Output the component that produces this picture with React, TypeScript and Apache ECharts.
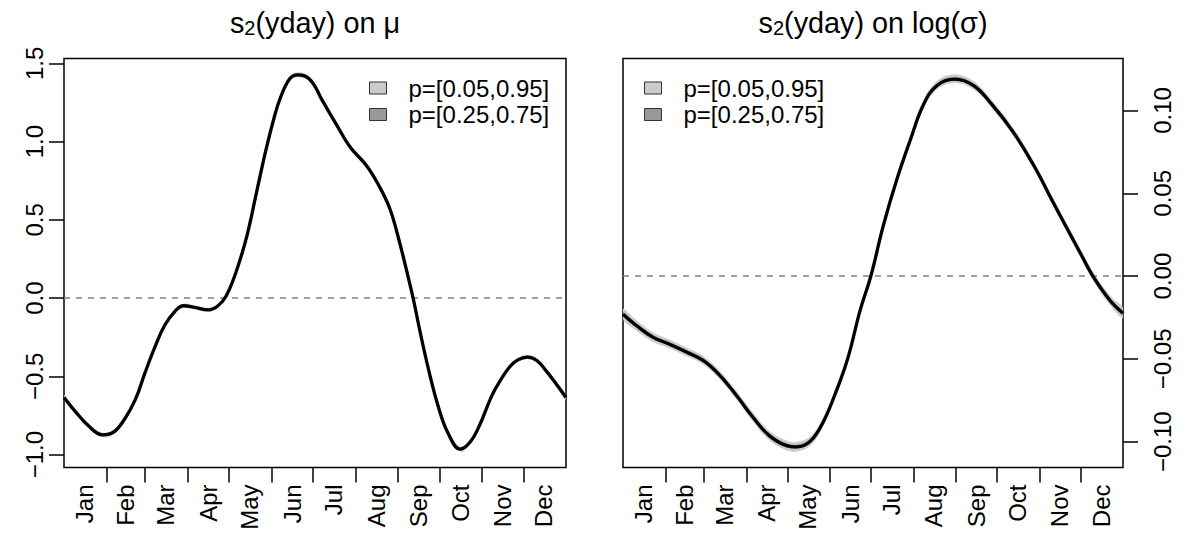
import React, { useEffect, useRef } from 'react';
import * as echarts from 'echarts';

const FONT = '"Liberation Sans", Arial, Helvetica, sans-serif';

const monthNames = ['Jan', 'Feb', 'Mar', 'Apr', 'May', 'Jun', 'Jul', 'Aug', 'Sep', 'Oct', 'Nov', 'Dec'];
const monthStartDays = [32, 60, 91, 121, 152, 182, 213, 244, 274, 305, 335];
const monthMidDays = [16, 46, 75, 106, 136, 167, 197, 228, 259, 289, 320, 350];

const muTicks = [-1, -0.5, 0, 0.5, 1, 1.5];
const sigmaTicks = [-0.1, -0.05, 0, 0.05, 0.1];

const legendNames = ['p=[0.05,0.95]', 'p=[0.25,0.75]'];

// left panel: s2(yday) on mu
const muDays = [
  1, 9, 19, 29, 37, 45, 53, 60, 67, 74,
  82, 88, 96, 106, 113, 119, 126, 134, 141, 148,
  154, 158, 165, 171, 180, 189, 199, 209, 221, 230,
  238, 245, 251, 255, 260, 266, 273, 280, 289, 296,
  303, 312, 318, 325, 331, 338, 345, 352, 359, 366,
];
const muMean = [
  -0.635, -0.722, -0.818, -0.874, -0.857, -0.774, -0.646, -0.475, -0.315, -0.177,
  -0.081, -0.049, -0.06, -0.075, -0.049, 0.015, 0.164, 0.398, 0.676, 0.953,
  1.16, 1.272, 1.4, 1.426, 1.395, 1.26, 1.11, 0.965, 0.846, 0.718,
  0.569, 0.356, 0.143, -0.006, -0.219, -0.454, -0.689, -0.859, -0.965, -0.923,
  -0.816, -0.625, -0.53, -0.44, -0.395, -0.377, -0.4, -0.47, -0.55, -0.635,
];
const muHw90 = [
  0.016, 0.015, 0.014, 0.014, 0.014, 0.013, 0.013, 0.012, 0.012, 0.012,
  0.012, 0.012, 0.012, 0.012, 0.012, 0.012, 0.012, 0.013, 0.013, 0.014,
  0.014, 0.015, 0.016, 0.016, 0.016, 0.015, 0.014, 0.013, 0.013, 0.013,
  0.013, 0.013, 0.013, 0.013, 0.013, 0.014, 0.014, 0.015, 0.016, 0.016,
  0.015, 0.014, 0.014, 0.013, 0.013, 0.013, 0.013, 0.014, 0.015, 0.016,
];
const muHw50 = [
  0.006, 0.006, 0.006, 0.006, 0.006, 0.005, 0.005, 0.005, 0.005, 0.005,
  0.005, 0.005, 0.005, 0.005, 0.005, 0.005, 0.005, 0.005, 0.005, 0.006,
  0.006, 0.006, 0.006, 0.006, 0.006, 0.006, 0.006, 0.005, 0.005, 0.005,
  0.005, 0.005, 0.005, 0.005, 0.005, 0.006, 0.006, 0.006, 0.006, 0.006,
  0.006, 0.006, 0.005, 0.005, 0.005, 0.005, 0.005, 0.006, 0.006, 0.006,
];

// right panel: s2(yday) on log(sigma)
const sigmaDays = [
  1, 11, 23, 35, 48, 60, 72, 84, 96, 108,
  121, 128, 138, 147, 156, 163, 167, 174, 182, 191,
  201, 211, 220, 230, 243, 257, 271, 286, 301, 315,
  324, 335, 344, 357, 366,
];
const sigmaMean = [
  -0.023, -0.03, -0.037, -0.0411, -0.0461, -0.0512, -0.0602, -0.0723, -0.0854, -0.0965,
  -0.1025, -0.1031, -0.0995, -0.0884, -0.071, -0.0552, -0.0441, -0.021, 0.0002, 0.0304,
  0.0586, 0.0828, 0.1029, 0.115, 0.119, 0.115, 0.1029, 0.0868, 0.0666, 0.0445,
  0.0305, 0.0136, 0.0, -0.0152, -0.0224,
];
const sigmaHw90 = [
  0.0032, 0.003, 0.0028, 0.0026, 0.0025, 0.0025, 0.0025, 0.0026, 0.0027, 0.0028,
  0.0029, 0.0029, 0.0028, 0.0026, 0.0024, 0.0023, 0.0022, 0.0022, 0.0022, 0.0022,
  0.0022, 0.0023, 0.0024, 0.0025, 0.0026, 0.0025, 0.0024, 0.0023, 0.0022, 0.0022,
  0.0023, 0.0024, 0.0026, 0.0029, 0.0032,
];
const sigmaHw50 = [
  0.0013, 0.0012, 0.0012, 0.0011, 0.0011, 0.0011, 0.0011, 0.0011, 0.0011, 0.0012,
  0.0012, 0.0012, 0.0012, 0.0011, 0.0011, 0.001, 0.001, 0.001, 0.001, 0.001,
  0.001, 0.001, 0.0011, 0.0011, 0.0011, 0.0011, 0.0011, 0.001, 0.001, 0.001,
  0.001, 0.0011, 0.0011, 0.0012, 0.0013,
];

const SMOOTH = 0.4;

function bandSeries(gridIdx: number, name: string, color: string,
  days: number[], mean: number[], hw: number[]) {
  return {
    type: 'custom', name, xAxisIndex: gridIdx, yAxisIndex: gridIdx,
    data: [[days[0], mean[0]]], clip: true, silent: true, z: 2,
    itemStyle: { color },
    renderItem: (_params: any, api: any) => {
      const upper = days.map((d, i) => api.coord([d, mean[i] + hw[i]]));
      const lower = days.map((d, i) => api.coord([d, mean[i] - hw[i]])).reverse();
      return {
        type: 'group',
        children: [
          { type: 'polyline', shape: { points: upper, smooth: SMOOTH }, style: { stroke: color, fill: 'none', lineWidth: 0.5 } },
          { type: 'polygon', shape: { points: upper.concat(lower), smooth: SMOOTH }, style: { fill: color, stroke: 'none' } },
        ],
      };
    },
  };
}

function meanSeries(gridIdx: number, days: number[], mean: number[]) {
  return {
    type: 'line', name: 'mean' + gridIdx, xAxisIndex: gridIdx, yAxisIndex: gridIdx,
    data: days.map((d, i) => [d, mean[i]]), smooth: SMOOTH, symbol: 'none', silent: true,
    lineStyle: { color: '#000', width: 3.3 }, z: 4,
    markLine: {
      silent: true, symbol: 'none', label: { show: false },
      lineStyle: { type: [6, 6], color: '#808080', width: 1.5 },
      data: [{ yAxis: 0 }], z: 3,
    },
  };
}

const fmtSigned = (v: number, digits: number) =>
  (v < 0 ? '\u2212' : '') + Math.abs(v).toFixed(digits);

function xAxisDef(gridIdx: number) {
  return {
    type: 'value', gridIndex: gridIdx, min: 1, max: 366,
    splitLine: { show: false }, axisLine: { show: false, onZero: false },
    axisTick: { show: true, customValues: monthStartDays, length: 15, lineStyle: { color: '#000', width: 1.5 } },
    axisLabel: {
      show: true, customValues: monthMidDays, rotate: 90, margin: 17, fontSize: 24, color: '#000',
      formatter: (v: number) => monthNames[monthMidDays.indexOf(v)] ?? '',
    },
  };
}

const titleStyle = (text: string, x: number) => ({
  type: 'text', x, y: 6, silent: true,
  style: {
    text, x: 0, y: 0, textAlign: 'center', align: 'center', textVerticalAlign: 'top', verticalAlign: 'top',
    fontSize: 28.8, fontFamily: FONT, fill: '#000', lineHeight: 34,
    rich: { sub: { fontSize: 20, fontFamily: FONT, fill: '#000', padding: [9, 0, 0, 0] } },
  },
});

const legendDef = (left: number) => ({
  data: legendNames, left, top: 76, orient: 'vertical', icon: 'rect',
  itemWidth: 17, itemHeight: 12, itemGap: 2.5, padding: 0, selectedMode: false,
  textStyle: { fontSize: 24, color: '#000', fontFamily: FONT, padding: [0, 0, 0, 17] },
  itemStyle: { borderColor: '#333', borderWidth: 1 },
});

const option = {
  animation: false,
  backgroundColor: '#fff',
  textStyle: { fontFamily: FONT },
  graphic: [
    titleStyle('s{sub|2}(yday) on \u03bc', 315),
    titleStyle('s{sub|2}(yday) on log(\u03c3)', 873),
  ],
  legend: [legendDef(369), legendDef(644)],
  grid: [
    { left: 64, top: 58.5, width: 502, height: 409, show: true, borderColor: '#000', borderWidth: 1.5, backgroundColor: 'transparent' },
    { left: 623, top: 58.5, width: 500, height: 409, show: true, borderColor: '#000', borderWidth: 1.5, backgroundColor: 'transparent' },
  ],
  xAxis: [xAxisDef(0), xAxisDef(1)],
  yAxis: [
    {
      type: 'value', gridIndex: 0, min: -1.0825, max: 1.531, position: 'left',
      splitLine: { show: false }, axisLine: { show: false, onZero: false },
      axisTick: { show: true, customValues: muTicks, length: 15, lineStyle: { color: '#000', width: 1.5 } },
      axisLabel: {
        show: true, customValues: muTicks, rotate: 90, margin: 17.5, fontSize: 24, color: '#000',
        formatter: (v: number) => fmtSigned(v, 1),
      },
    },
    {
      type: 'value', gridIndex: 1, min: -0.1156, max: 0.1314, position: 'right',
      splitLine: { show: false }, axisLine: { show: false, onZero: false },
      axisTick: { show: true, customValues: sigmaTicks, length: 15, lineStyle: { color: '#000', width: 1.5 } },
      axisLabel: {
        show: true, customValues: sigmaTicks, rotate: 90, margin: 27, fontSize: 24, color: '#000',
        formatter: (v: number) => fmtSigned(v, 2),
      },
    },
  ],
  series: [
    bandSeries(0, legendNames[0], '#cccccc', muDays, muMean, muHw90),
    bandSeries(0, legendNames[1], '#999999', muDays, muMean, muHw50),
    meanSeries(0, muDays, muMean),
    bandSeries(1, legendNames[0], '#cccccc', sigmaDays, sigmaMean, sigmaHw90),
    bandSeries(1, legendNames[1], '#999999', sigmaDays, sigmaMean, sigmaHw50),
    meanSeries(1, sigmaDays, sigmaMean),
  ],
};

export default function App() {
  const ref = useRef<HTMLDivElement>(null);
  useEffect(() => {
    if (!ref.current) return;
    const chart = echarts.init(ref.current, null, { renderer: 'svg' });
    chart.setOption(option as any);
    return () => chart.dispose();
  }, []);
  return (
    <div
      ref={ref}
      style={{ position: 'fixed', left: 0, top: 0, width: 1188, height: 547, background: '#fff' }}
    />
  );
}
